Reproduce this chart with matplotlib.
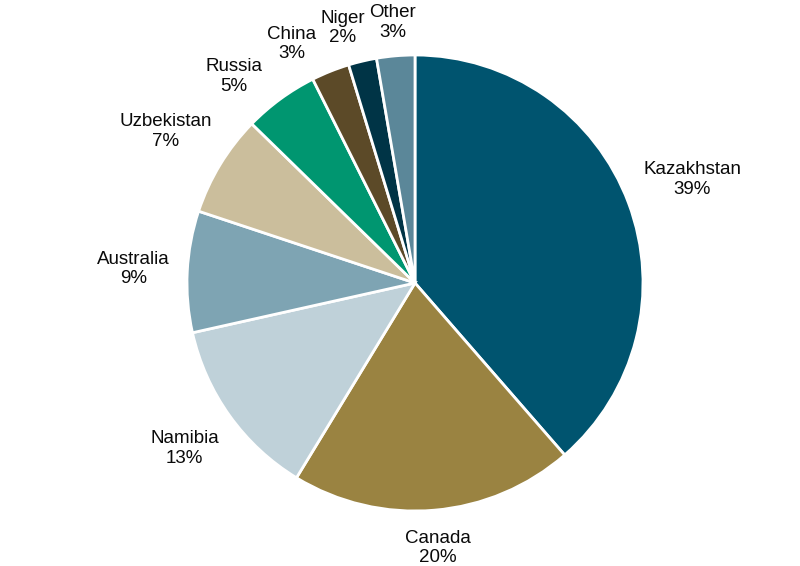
import numpy as np
import matplotlib.pyplot as plt

countries = ['Kazakhstan', 'Canada', 'Namibia', 'Australia', 'Uzbekistan',
             'Russia', 'China', 'Niger', 'Other']
shares = [38.6, 20.1, 12.8, 8.6, 7.2, 5.3, 2.7, 2.0, 2.7]
colors = ['#00546F', '#9A8341', '#BFD1D9', '#7EA4B3', '#CBBE9C',
          '#009670', '#5C4A28', '#003446', '#5B8799']

plt.rcParams['font.family'] = ['Liberation Sans', 'DejaVu Sans']

fig = plt.figure(figsize=(8, 5.66), dpi=100)
R = 228.0  # radius in pixels
ax = fig.add_axes([0, 0, 1, 1])

wedges, _ = ax.pie(shares, colors=colors, startangle=90, counterclock=False,
                   radius=1, wedgeprops=dict(edgecolor='white', linewidth=2))
# pie resets the limits, so set them afterwards (1 unit = R pixels)
ax.set_xlim(-415 / R, 385 / R)
ax.set_ylim(-283 / R, 283 / R)
ax.set_aspect('auto')
ax.axis('off')

fig.canvas.draw()
renderer = fig.canvas.get_renderer()


def place(t, ang):
    c, s = np.cos(ang), np.sin(ang)
    bb = t.get_window_extent(renderer)
    hw, hh = bb.width / 2 / R, bb.height / 2 / R
    gap = (17 - 4 * max(s, 0)) / R   # a bit tighter near the top edge
    d = 1 + gap + abs(c) * hw + abs(s) * hh
    t.set_position((d * c, d * s))
    return d * c, hw


# go from the last wedge (top) backwards so small labels can be pushed apart
prev_left = None
for w, name, val in list(zip(wedges, countries, shares))[::-1]:
    ang = np.deg2rad((w.theta1 + w.theta2) / 2)
    t = ax.text(0, 0, '%s\n%.0f%%' % (name, val), ha='center', va='center',
                fontsize=13.5, linespacing=1.2, color='#0a0a0a')
    x, hw = place(t, ang)
    if prev_left is not None and np.sin(ang) > 0.8:
        while x + hw > prev_left - 3 / R:
            ang += np.deg2rad(0.5)
            x, hw = place(t, ang)
    prev_left = x - hw

fig.savefig('out.png', dpi=100)
